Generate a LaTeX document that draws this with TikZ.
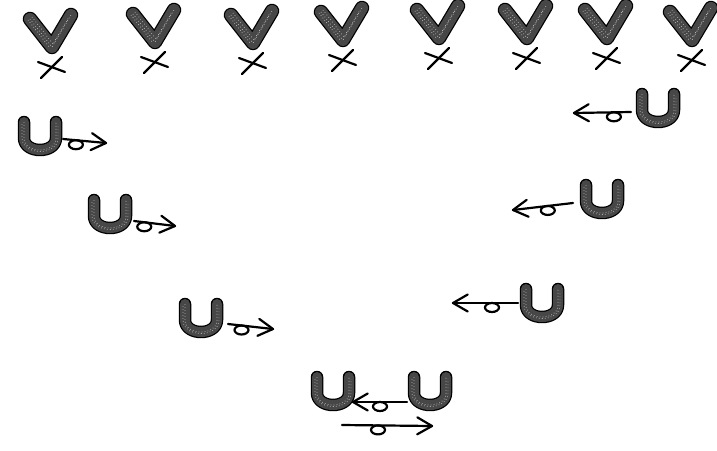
\documentclass[tikz,border=0pt]{standalone}
\usetikzlibrary{calc}
\tikzset{
  pen/.style={line width=2.2pt, black, line cap=round, line join=round},
  inkedge/.style={line width=#1, black, line cap=round, line join=round},
  inkfill/.style={line width=#1, black!72, line cap=round, line join=round},
  speck/.style={line width=0.7pt, white!85!black, dash pattern=on 0.6pt off 2.4pt, line cap=butt},
  vee/.pic={
    \draw[inkedge=14.5pt] (-22,-28) -- (0,0) -- (19,-32);
    \draw[inkfill=12pt] (-22,-28) -- (0,0) -- (19,-32);
    \draw[speck] (-22,-28) -- (0,0) -- (19,-32);
    \draw[speck] (-20,-30) -- (1,-3) -- (17,-30);
    \draw[speck] (-24,-27) -- (-2,1);
    \draw[pen,line width=2.2pt] (-14,15) -- (13,25);
    \draw[pen,line width=2.2pt] (-11,31) -- (10,10);
  },
  cup/.pic={
    \draw[inkedge=12.5pt] (-16,-28) -- (-16,-12) .. controls (-16,4) and (16,4) .. (16,-12) -- (16,-28);
    \draw[inkfill=10pt] (-16,-28) -- (-16,-12) .. controls (-16,4) and (16,4) .. (16,-12) -- (16,-28);
    \draw[speck] (-16,-28) -- (-16,-12) .. controls (-16,4) and (16,4) .. (16,-12) -- (16,-28);
    \draw[speck] (-18,-26) -- (-18,-12) .. controls (-18,6) and (18,6) .. (18,-12) -- (18,-26);
  }
}
\newcommand\loopyarrow[3]{%
  \draw[pen] (#1) -- (#2);
  \draw[pen] ($(#1)!#3!(#2)+(0,4.5)$) ellipse[x radius=7pt, y radius=4.5pt];
  \draw[pen] ($(#2)!17pt!30:(#1)$) -- (#2) -- ($(#2)!17pt!-30:(#1)$);
}
\begin{document}
\begin{tikzpicture}[x=1pt,y=-1pt]
\useasboundingbox[fill=white] (0,0) rectangle (717,450);
% top row
\pic at (52,47) {vee};
\pic at (155,42) {vee};
\pic at (253,43) {vee};
\pic at (343,40) {vee};
\pic at (439,38) {vee};
\pic at (527,38) {vee};
\pic at (607,38) {vee};
\pic at (692,40) {vee};
% cups
\pic at (40,150) {cup};
\pic at (110,228) {cup};
\pic at (201,332) {cup};
\pic at (658,122) {cup};
\pic at (602,213) {cup};
\pic at (542,317) {cup};
\pic at (333,405) {cup};
\pic at (430,405) {cup};
% arrow ends
\coordinate (r1s) at (63,139);  \coordinate (r1t) at (106,143);
\coordinate (r2s) at (134,221); \coordinate (r2t) at (175,226);
\coordinate (r3s) at (228,324); \coordinate (r3t) at (273,329);
\coordinate (l1s) at (631,112); \coordinate (l1t) at (574,113);
\coordinate (l2s) at (573,203); \coordinate (l2t) at (513,210);
\coordinate (l3s) at (518,303); \coordinate (l3t) at (453,303);
\coordinate (ms) at (407,402);  \coordinate (mt) at (353,402);
\coordinate (bs) at (342,425);  \coordinate (bt) at (432,426);
\loopyarrow{r1s}{r1t}{0.3}
\loopyarrow{r2s}{r2t}{0.25}
\loopyarrow{r3s}{r3t}{0.3}
\loopyarrow{l1s}{l1t}{0.3}
\loopyarrow{l2s}{l2t}{0.42}
\loopyarrow{l3s}{l3t}{0.4}
\loopyarrow{ms}{mt}{0.5}
\loopyarrow{bs}{bt}{0.4}
\end{tikzpicture}
\end{document}
